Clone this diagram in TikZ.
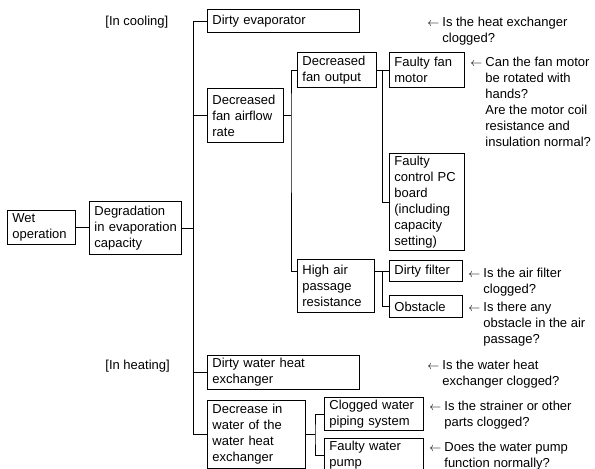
\documentclass[tikz,border=0pt]{standalone}
\usepackage{fontspec}
\setmainfont{Liberation Sans}
\hyphenpenalty=10000
\exhyphenpenalty=10000
\begin{document}
\begin{tikzpicture}[x=1pt, y=-1pt, line width=0.8pt, line cap=rect,
  box/.style={draw, anchor=north west, align=left, inner xsep=5pt, inner ysep=0pt,
              font=\fontsize{13}{16}\selectfont},
  note/.style={anchor=base west, inner sep=0pt, font=\fontsize{13}{16}\selectfont}]

  %% ════ boxes ════
  \node[box, text width=58pt,  minimum height=34pt] (wet)     at (7,210)   {Wet\\operation};
  \node[box, text width=82pt,  minimum height=53pt] (deg)     at (89,201)  {Degradation\\\mbox{in evaporation}\\capacity};
  \node[box, text width=142pt, minimum height=23pt] (evap)    at (207,9)   {Dirty evaporator};
  \node[box, text width=66pt,  minimum height=54pt] (fanair)  at (207,88)  {Decreased\\fan airflow\\rate};
  \node[box, text width=69pt,  minimum height=35pt] (fanout)  at (297,52)  {Decreased\\fan output};
  \node[box, text width=65pt,  minimum height=35pt] (motor)   at (389,52)  {Faulty fan\\motor};
  \node[box, text width=65pt,  minimum height=97pt] (pcb)     at (389,153) {Faulty\\control PC\\board\\(including\\capacity\\setting)};
  \node[box, text width=67pt,  minimum height=53pt] (highair) at (297,259) {High air\\passage\\resistance};
  \node[box, text width=63pt,  minimum height=21pt] (filter)  at (389,260) {Dirty filter};
  \node[box, text width=63pt,  minimum height=22pt] (obst)    at (389,295) {Obstacle};
  \node[box, text width=142pt, minimum height=34pt] (dirtyw)  at (207,355) {Dirty water heat\\exchanger};
  \node[box, text width=88pt,  minimum height=68pt] (decw)    at (207,400) {Decrease in\\water of the\\water heat\\exchanger};
  \node[box, text width=89pt,  minimum height=33pt] (clog)    at (324,397) {Clogged water\\piping system};
  \node[box, text width=89pt,  minimum height=34pt] (pump)    at (324,438) {Faulty water\\pump};

  %% ════ tree lines ════
  \draw (wet.east) -- (wet.east -| deg.west);
  \coordinate (j1) at (193.5,227.5);
  \draw (deg.east) -- (deg.east -| j1);
  \draw (evap.west) -| (j1) |- (decw.west);
  \draw (j1 |- fanair.west) -- (fanair.west);
  \draw (j1 |- dirtyw.west) -- (dirtyw.west);

  \coordinate (j2) at (291,116);
  \draw (fanair.east) -- (fanair.east -| j2);
  \draw (fanout.west) -| (j2) |- (highair.west |- filter.west);

  \coordinate (j3) at (382,69.5);
  \draw (fanout.east) -- (motor.west);
  \draw (fanout.east -| j3) |- (pcb.west);
  \draw (highair.east |- filter.west) -- (filter.west);
  \draw (filter.west -| j3) |- (obst.west);

  \coordinate (j4) at (315,434);
  \draw (decw.east) -- (decw.east -| j4);
  \draw (clog.west) -| (j4) |- (pump.west);

  %% ════ labels ════
  \node[note] (cool) at (105,25.5)  {[In cooling]};
  \node[note] (heat) at (105,369.5) {[In heating]};

  %% questions: arrow, then the text hanging to the right of it
  \node[note] (q1) at (427,26.5) {\begin{tabular}[t]{@{}l@{\hspace{3pt}}l@{}}$\leftarrow$ & Is the heat exchanger\\ & clogged?\end{tabular}};
  \node[note] (q2) at (470,66) {\begin{tabular}[t]{@{}l@{\hspace{3pt}}l@{}}$\leftarrow$ & Can the fan motor\\ & be rotated with\\ & hands?\\ & Are the motor coil\\ & resistance and\\ & insulation normal?\end{tabular}};
  \node[note] (q3) at (468,277.5) {\begin{tabular}[t]{@{}l@{\hspace{3pt}}l@{}}$\leftarrow$ & Is the air filter\\ & clogged?\end{tabular}};
  \node[note] (q4) at (468,311.5) {\begin{tabular}[t]{@{}l@{\hspace{3pt}}l@{}}$\leftarrow$ & Is there any\\ & obstacle in the air\\ & passage?\end{tabular}};
  \node[note] (q5) at (427,369.5) {\begin{tabular}[t]{@{}l@{\hspace{3pt}}l@{}}$\leftarrow$ & Is the water heat\\ & exchanger clogged?\end{tabular}};
  \node[note] (q6) at (429,410.5) {\begin{tabular}[t]{@{}l@{\hspace{3pt}}l@{}}$\leftarrow$ & Is the strainer or other\\ & parts clogged?\end{tabular}};
  \node[note] (q7) at (429,451.5) {\begin{tabular}[t]{@{}l@{\hspace{3pt}}l@{}}$\leftarrow$ & Does the water pump\\ & function normally?\end{tabular}};

  % fix the canvas to the reference size
  \pgfresetboundingbox
  \path[use as bounding box] (0,0) rectangle (595,469);
\end{tikzpicture}
\end{document}
